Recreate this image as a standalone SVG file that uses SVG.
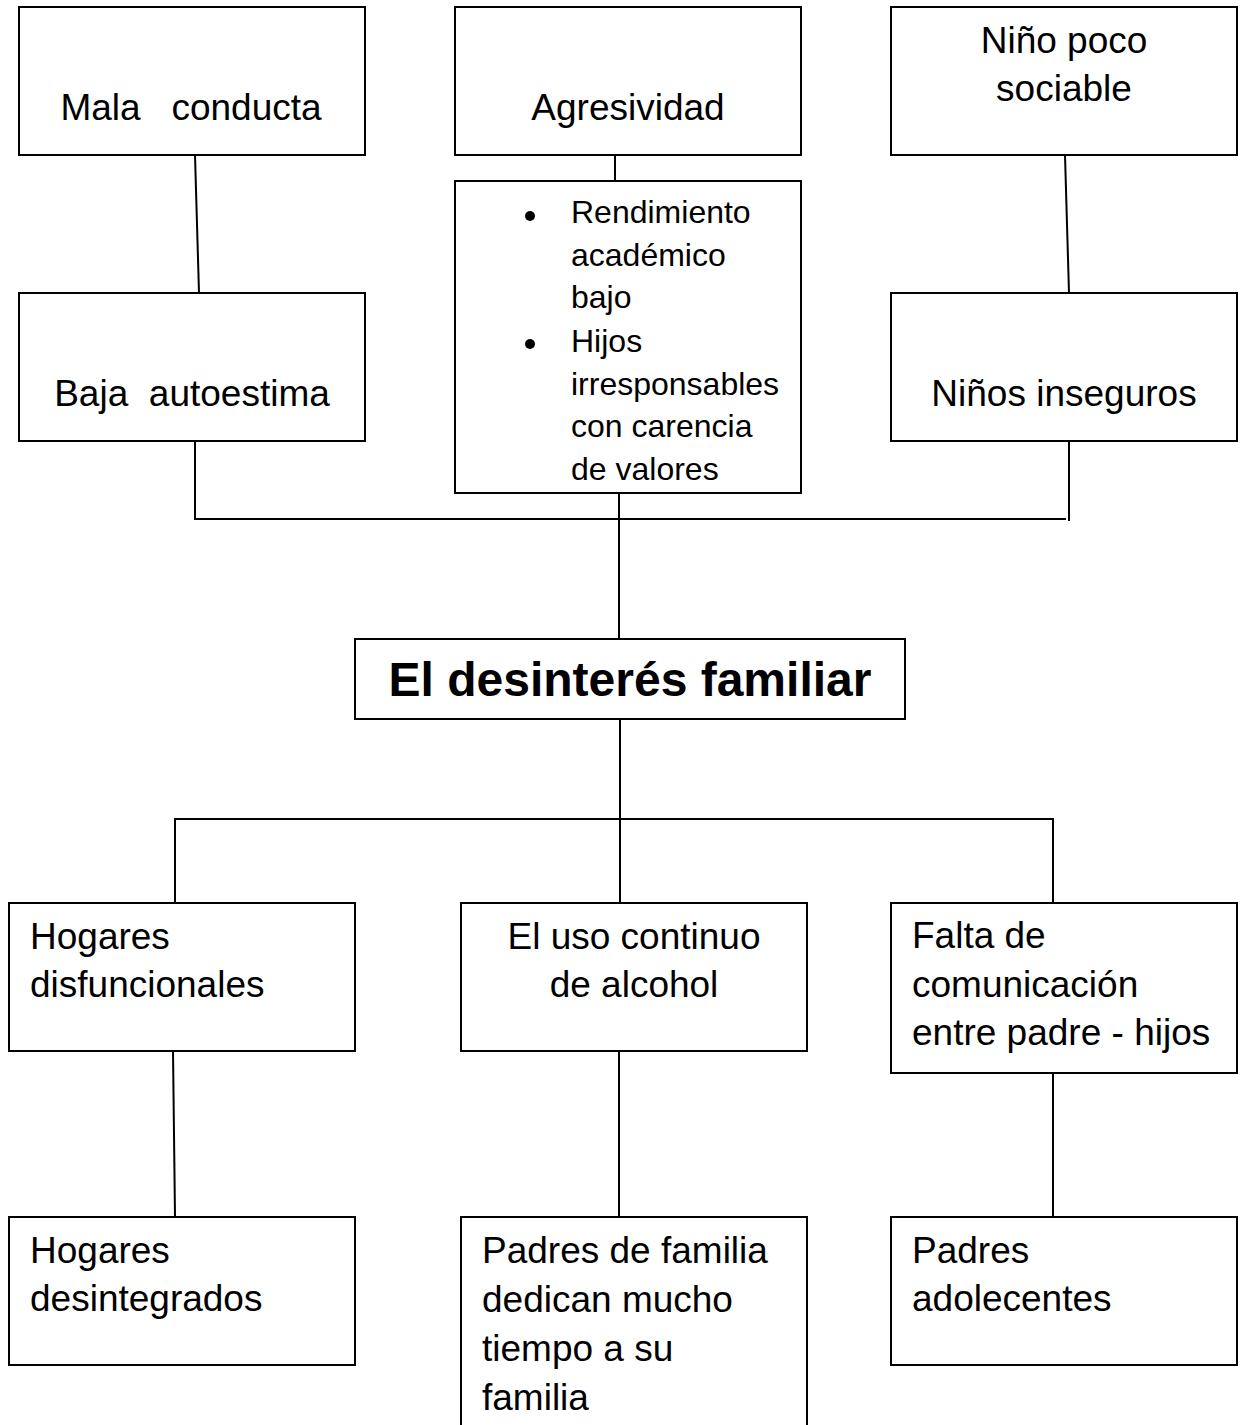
<svg xmlns="http://www.w3.org/2000/svg" width="1245" height="1425" viewBox="0 0 1245 1425">
<style>
.box{fill:#fff;stroke:#000;stroke-width:2}
.ln{fill:none;stroke:#000;stroke-width:2}
text{font-family:"Liberation Sans",Arial,sans-serif;fill:#000}
.t{font-size:37px}
.s{font-size:32px}
.c{text-anchor:middle}
.b{font-size:48px;font-weight:bold}
</style>
<rect width="1245" height="1425" fill="#fff"/>
<g id="connectors">
<line class="ln" x1="195" y1="155" x2="199" y2="293"/>
<line class="ln" x1="615" y1="155" x2="615" y2="181"/>
<line class="ln" x1="1065" y1="155" x2="1069" y2="293"/>
<polyline class="ln" points="195,441 195,519 1066,519"/>
<line class="ln" x1="1069" y1="441" x2="1069" y2="521"/>
<line class="ln" x1="619" y1="493" x2="619" y2="639"/>
<line class="ln" x1="620" y1="719" x2="620" y2="903"/>
<polyline class="ln" points="175,903 175,819 1053,819 1053,903"/>
<line class="ln" x1="173" y1="1051" x2="175" y2="1217"/>
<line class="ln" x1="619" y1="1051" x2="619" y2="1217"/>
<line class="ln" x1="1053" y1="1073" x2="1053" y2="1217"/>
</g>
<g id="mala-conducta">
<rect class="box" x="19" y="7" width="346" height="148"/>
<text class="t c" x="191" y="120" xml:space="preserve">Mala   conducta</text>
</g>
<g id="agresividad">
<rect class="box" x="455" y="7" width="346" height="148"/>
<text class="t c" x="628" y="120">Agresividad</text>
</g>
<g id="nino-poco-sociable">
<rect class="box" x="891" y="7" width="346" height="148"/>
<text class="t c" x="1064" y="53">Niño poco</text>
<text class="t c" x="1064" y="101">sociable</text>
</g>
<g id="baja-autoestima">
<rect class="box" x="19" y="293" width="346" height="148"/>
<text class="t c" x="192" y="406" xml:space="preserve">Baja  autoestima</text>
</g>
<g id="rendimiento">
<rect class="box" x="455" y="181" width="346" height="312"/>
<circle cx="530" cy="216" r="5"/>
<circle cx="530" cy="344" r="5"/>
<text class="s" x="571" y="223">Rendimiento</text>
<text class="s" x="571" y="266">académico</text>
<text class="s" x="571" y="308">bajo</text>
<text class="s" x="571" y="352">Hijos</text>
<text class="s" x="571" y="395">irresponsables</text>
<text class="s" x="571" y="437">con carencia</text>
<text class="s" x="571" y="480">de valores</text>
</g>
<g id="ninos-inseguros">
<rect class="box" x="891" y="293" width="346" height="148"/>
<text class="t c" x="1064" y="406">Niños inseguros</text>
</g>
<g id="desinteres-familiar">
<rect class="box" x="355" y="639" width="550" height="80"/>
<text class="b c" x="630" y="696">El desinterés familiar</text>
</g>
<g id="hogares-disfuncionales">
<rect class="box" x="9" y="903" width="346" height="148"/>
<text class="t" x="30" y="949">Hogares</text>
<text class="t" x="30" y="997">disfuncionales</text>
</g>
<g id="uso-alcohol">
<rect class="box" x="461" y="903" width="346" height="148"/>
<text class="t c" x="634" y="949">El uso continuo</text>
<text class="t c" x="634" y="997">de alcohol</text>
</g>
<g id="falta-comunicacion">
<rect class="box" x="891" y="903" width="346" height="170"/>
<text class="t" x="912" y="948">Falta de</text>
<text class="t" x="912" y="997">comunicación</text>
<text class="t" x="912" y="1045">entre padre - hijos</text>
</g>
<g id="hogares-desintegrados">
<rect class="box" x="9" y="1217" width="346" height="148"/>
<text class="t" x="30" y="1263">Hogares</text>
<text class="t" x="30" y="1311">desintegrados</text>
</g>
<g id="padres-familia">
<path class="ln" d="M461,1430 V1217 H807 V1430"/>
<text class="t" x="482" y="1263">Padres de familia</text>
<text class="t" x="482" y="1312">dedican mucho</text>
<text class="t" x="482" y="1361">tiempo a su</text>
<text class="t" x="482" y="1410">familia</text>
</g>
<g id="padres-adolecentes">
<rect class="box" x="891" y="1217" width="346" height="148"/>
<text class="t" x="912" y="1263">Padres</text>
<text class="t" x="912" y="1311">adolecentes</text>
</g>
</svg>
